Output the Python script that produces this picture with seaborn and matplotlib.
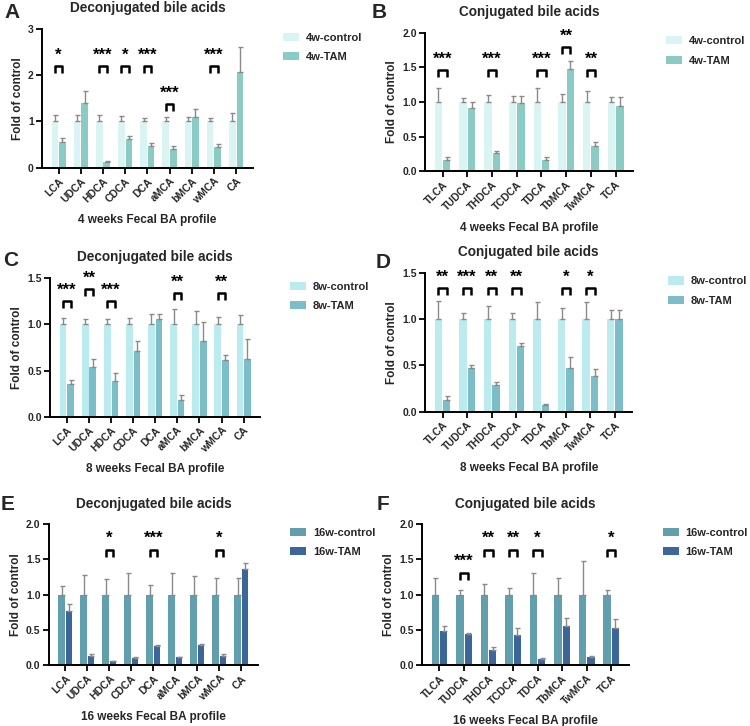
import numpy as np
import pandas as pd
import matplotlib
matplotlib.use('Agg')
import matplotlib.pyplot as plt
import seaborn as sns

# ---- data (fold of control, mean and upper error) ----
decon_cats = ['LCA', 'UDCA', 'HDCA', 'CDCA', 'DCA', 'aMCA', 'bMCA', 'wMCA', 'CA']
con_cats = ['TLCA', 'TUDCA', 'THDCA', 'TCDCA', 'TDCA', 'TbMCA', 'TwMCA', 'TCA']

a_ctrl = [1, 1, 1, 1, 1, 1, 1, 1, 1]
a_ctrl_err = [0.15, 0.15, 0.14, 0.12, 0.08, 0.10, 0.10, 0.07, 0.18]
a_tam = [0.56, 1.40, 0.12, 0.62, 0.47, 0.40, 1.10, 0.45, 2.06]
a_tam_err = [0.09, 0.25, 0.02, 0.07, 0.06, 0.08, 0.18, 0.07, 0.55]
a_sig = ['*', '', '***', '*', '***', '***', '', '***', '']

b_ctrl = [1, 1, 1, 1, 1, 1, 1, 1]
b_ctrl_err = [0.20, 0.06, 0.10, 0.09, 0.20, 0.11, 0.16, 0.07]
b_tam = [0.17, 0.92, 0.27, 0.98, 0.17, 1.48, 0.36, 0.94]
b_tam_err = [0.03, 0.08, 0.03, 0.10, 0.03, 0.11, 0.07, 0.13]
b_sig = ['***', '', '***', '', '***', '**', '**', '']

c_ctrl = [1, 1, 1, 1, 1, 1, 1, 1, 1]
c_ctrl_err = [0.07, 0.06, 0.06, 0.065, 0.11, 0.17, 0.14, 0.08, 0.10]
c_tam = [0.355, 0.535, 0.385, 0.71, 1.06, 0.185, 0.82, 0.61, 0.625]
c_tam_err = [0.045, 0.085, 0.085, 0.11, 0.05, 0.05, 0.21, 0.06, 0.215]
c_sig = ['***', '**', '***', '', '', '**', '', '**', '']

d_ctrl = [1, 1, 1, 1, 1, 1, 1, 1]
d_ctrl_err = [0.20, 0.07, 0.14, 0.07, 0.19, 0.12, 0.19, 0.10]
d_tam = [0.13, 0.475, 0.29, 0.71, 0.07, 0.475, 0.39, 1.0]
d_tam_err = [0.04, 0.025, 0.03, 0.035, 0.015, 0.115, 0.07, 0.10]
d_sig = ['**', '***', '**', '**', '', '*', '*', '']

e_ctrl = [1, 1, 1, 1, 1, 1, 1, 1, 1]
e_ctrl_err = [0.12, 0.28, 0.22, 0.30, 0.14, 0.31, 0.27, 0.24, 0.24]
e_tam = [0.76, 0.13, 0.05, 0.10, 0.27, 0.11, 0.28, 0.13, 1.36]
e_tam_err = [0.10, 0.02, 0.01, 0.01, 0.02, 0.01, 0.02, 0.02, 0.09]
e_sig = ['', '', '*', '', '***', '', '', '*', '']

f_ctrl = [1, 1, 1, 1, 1, 1, 1, 1]
f_ctrl_err = [0.24, 0.06, 0.15, 0.10, 0.31, 0.23, 0.47, 0.06]
f_tam = [0.49, 0.44, 0.21, 0.43, 0.09, 0.56, 0.11, 0.53]
f_tam_err = [0.06, 0.01, 0.05, 0.09, 0.01, 0.11, 0.02, 0.12]
f_sig = ['', '***', '**', '**', '*', '', '', '*']

# bracket heights (annotation layout)
a_brk = [2.2, 0, 2.2, 2.2, 2.2, 1.38, 0, 2.2, 0]
b_brk = [1.46, 0, 1.46, 0, 1.46, 1.79, 1.46, 0]
c_brk = [1.25, 1.38, 1.25, 0, 0, 1.34, 0, 1.34, 0]
d_brk = [1.34, 1.34, 1.34, 1.34, 0, 1.34, 1.34, 0]
e_brk = [0, 0, 1.64, 0, 1.64, 0, 0, 1.64, 0]
f_brk = [0, 1.31, 1.64, 1.64, 1.64, 0, 0, 1.64]

sns.set_theme(style='ticks')
plt.rcParams['font.family'] = ['Liberation Sans', 'DejaVu Sans']
plt.rcParams['font.weight'] = 'bold'
plt.rcParams['axes.labelweight'] = 'bold'
plt.rcParams['axes.titleweight'] = 'bold'

panels = [
    dict(letter='A', title='Deconjugated bile acids', cats=decon_cats, week='4w',
         ctrl=a_ctrl, ctrl_err=a_ctrl_err, tam=a_tam, tam_err=a_tam_err, sig=a_sig, brk=a_brk,
         ymax=3, ticks=[0, 1, 2, 3], fmt='{:.0f}', colors=['#d6f7f7', '#7fd7cc'],
         rect=[0.056, 0.769, 0.281, 0.191], leg_x=1.142, lab_pos=(4, 13)),
    dict(letter='B', title='Conjugated bile acids', cats=con_cats, week='4w',
         ctrl=b_ctrl, ctrl_err=b_ctrl_err, tam=b_tam, tam_err=b_tam_err, sig=b_sig, brk=b_brk,
         ymax=2, ticks=[0, 0.5, 1, 1.5, 2], fmt='{:.1f}', colors=['#d6f7f7', '#7fd7cc'],
         rect=[0.567, 0.764, 0.277, 0.191], leg_x=1.159, lab_pos=(372, 12)),
    dict(letter='C', title='Deconjugated bile acids', cats=decon_cats, week='8w',
         ctrl=c_ctrl, ctrl_err=c_ctrl_err, tam=c_tam, tam_err=c_tam_err, sig=c_sig, brk=c_brk,
         ymax=1.5, ticks=[0, 0.5, 1, 1.5], fmt='{:.1f}', colors=['#b2f3f7', '#6fc7d4'],
         rect=[0.067, 0.426, 0.28, 0.191], leg_x=1.143, lab_pos=(3, 260)),
    dict(letter='D', title='Conjugated bile acids', cats=con_cats, week='8w',
         ctrl=d_ctrl, ctrl_err=d_ctrl_err, tam=d_tam, tam_err=d_tam_err, sig=d_sig, brk=d_brk,
         ymax=1.5, ticks=[0, 0.5, 1, 1.5], fmt='{:.1f}', colors=['#b2f3f7', '#6fc7d4'],
         rect=[0.567, 0.433, 0.276, 0.191], leg_x=1.174, lab_pos=(376, 262)),
    dict(letter='E', title='Deconjugated bile acids', cats=decon_cats, week='16w',
         ctrl=e_ctrl, ctrl_err=e_ctrl_err, tam=e_tam, tam_err=e_tam_err, sig=e_sig, brk=e_brk,
         ymax=2, ticks=[0, 0.5, 1, 1.5, 2], fmt='{:.1f}', colors=['#55a7b8', '#2d65a9'],
         rect=[0.065, 0.084, 0.279, 0.194], leg_x=1.153, lab_pos=(1, 505)),
    dict(letter='F', title='Conjugated bile acids', cats=con_cats, week='16w',
         ctrl=f_ctrl, ctrl_err=f_ctrl_err, tam=f_tam, tam_err=f_tam_err, sig=f_sig, brk=f_brk,
         ymax=2, ticks=[0, 0.5, 1, 1.5, 2], fmt='{:.1f}', colors=['#55a7b8', '#2d65a9'],
         rect=[0.563, 0.084, 0.275, 0.194], leg_x=1.165, lab_pos=(377, 505)),
]

weeks_text = {'4w': '4 weeks Fecal BA profile', '8w': '8 weeks Fecal BA profile',
              '16w': '16 weeks Fecal BA profile'}

W, H = 750, 726
fig = plt.figure(figsize=(W / 100, H / 100), dpi=100)

for p in panels:
    ax = fig.add_axes(p['rect'])
    n = len(p['cats'])
    ctrl_lab, tam_lab = p['week'] + '-control', p['week'] + '-TAM'
    df = pd.DataFrame({
        'BA': p['cats'] * 2,
        'group': [ctrl_lab] * n + [tam_lab] * n,
        'fold': list(p['ctrl']) + list(p['tam']),
        'err': list(p['ctrl_err']) + list(p['tam_err']),
    })
    sns.barplot(data=df, x='BA', y='fold', hue='group', hue_order=[ctrl_lab, tam_lab],
                palette=p['colors'], errorbar=None, width=0.68, gap=0.12,
                linewidth=0, ax=ax)

    centers = []
    for cont, grp in zip(ax.containers, [ctrl_lab, tam_lab]):
        sub = df[df['group'] == grp]
        xs = [b.get_x() + b.get_width() / 2 for b in cont]
        centers.append(xs)
        ax.errorbar(xs, sub['fold'], yerr=[np.zeros(n), sub['err']], fmt='none',
                    ecolor='#8a8a8a', elinewidth=1.0, capsize=1.8, capthick=1.0, zorder=1)

    ym = p['ymax']
    for i, s in enumerate(p['sig']):
        if not s:
            continue
        h = p['brk'][i]
        x0, x1 = centers[0][i], centers[1][i]
        ax.plot([x0, x0, x1, x1], [h - 0.05 * ym, h, h, h - 0.05 * ym], color='black',
                lw=1.8, solid_capstyle='butt', clip_on=False)
        ax.text((x0 + x1) / 2, h + 0.025 * ym, s, ha='center', va='bottom',
                fontsize=12, fontweight='bold', color='black')

    ax.set_ylim(0, ym)
    ax.set_yticks(p['ticks'])
    ax.set_yticklabels([p['fmt'].format(t) for t in p['ticks']], fontsize=7.5, fontweight='bold')
    ax.set_xticks(range(n))
    ax.set_xticklabels(p['cats'], rotation=45, ha='right', rotation_mode='anchor',
                       fontsize=7.5, fontweight='bold')
    ax.tick_params(axis='both', direction='out', length=4, width=1.3, color='black', pad=2)
    sns.despine(ax=ax)
    for sp in ['left', 'bottom']:
        ax.spines[sp].set_linewidth(1.4)
        ax.spines[sp].set_color('black')
    ax.set_ylabel('Fold of control', fontsize=8.5, fontweight='bold', labelpad=3)
    ax.set_xlabel(weeks_text[p['week']], fontsize=8.5, fontweight='bold', labelpad=6)
    ax.set_title(p['title'], fontsize=9.8, fontweight='bold', pad=12)

    ax.legend(loc='upper left', bbox_to_anchor=(p['leg_x'], 0.975), frameon=False,
              prop={'weight': 'bold', 'size': 8}, handlelength=1.45, handleheight=0.75,
              handletextpad=0.6, labelspacing=0.85, borderpad=0, borderaxespad=0, title=None)

    lx, ly = p['lab_pos']
    fig.text(lx / W, 1 - ly / H, p['letter'], fontsize=15, fontweight='bold',
             ha='left', va='center')

plt.savefig('out.png', dpi=100)
